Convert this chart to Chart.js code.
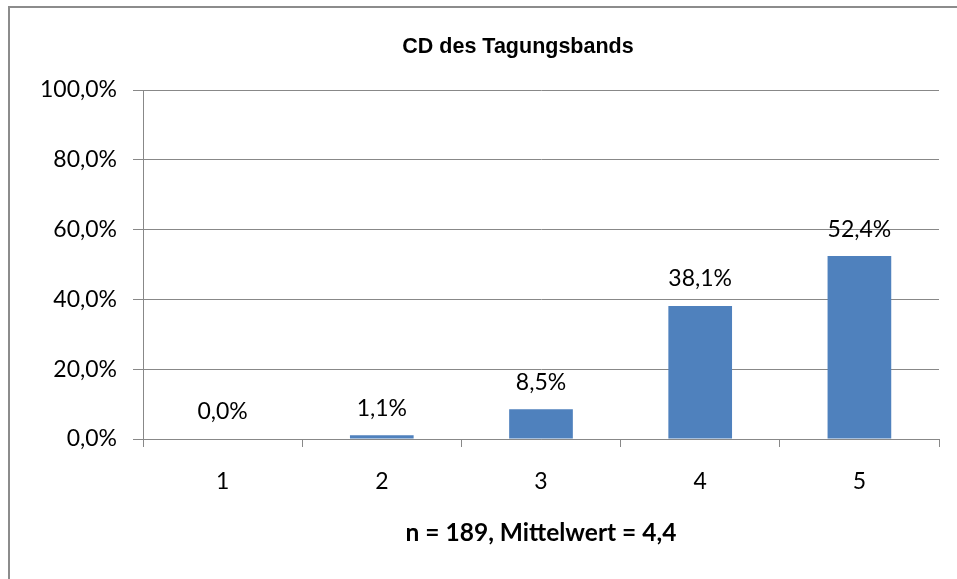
<!DOCTYPE html>
<html>
<head>
<meta charset="utf-8">
<script src="https://cdn.jsdelivr.net/npm/chart.js@4.4.1/dist/chart.umd.min.js"></script>
<style>
  html, body { margin: 0; padding: 0; background: #fff; }
  canvas { display: block; }
</style>
</head>
<body>
<canvas id="myChart" width="957" height="579"></canvas>
<script>
// values
var categories = ['1', '2', '3', '4', '5'];
var percentValues = [0.0, 1.1, 8.5, 38.1, 52.4];
var yTicks = [0, 20, 40, 60, 80, 100];

var chartTitle = 'CD des Tagungsbands';
var xTitle = 'n = 189, Mittelwert = 4,4';

var gridGray = '#888888';
var barBlue = '#4f81bd';
var textFont = 'Lato, "Open Sans", sans-serif';

function fmtPct(v) {
  return v.toFixed(1).replace('.', ',') + '%';
}

// frame + title + value labels
var decoPlugin = {
  id: 'deco',
  beforeDraw: function (chart) {
    var c = chart.ctx;
    c.save();
    c.fillStyle = '#fff';
    c.fillRect(0, 0, chart.width, chart.height);
    c.strokeStyle = '#8c8c8c';
    c.lineWidth = 2;
    c.strokeRect(9, 7, 1200, 1200);
    c.fillStyle = '#000';
    c.font = 'bold 21.5px "Liberation Sans", Arial, sans-serif';
    c.textAlign = 'center';
    c.textBaseline = 'middle';
    c.fillText(chartTitle, 518, 47);
    c.restore();
  },
  afterDatasetsDraw: function (chart) {
    var c = chart.ctx;
    var meta = chart.getDatasetMeta(0);
    c.save();
    c.fillStyle = '#000';
    c.font = '23px ' + textFont;
    c.textAlign = 'center';
    c.textBaseline = 'middle';
    meta.data.forEach(function (bar, i) {
      c.fillText(fmtPct(percentValues[i]), bar.x, bar.y - 27);
    });
    c.restore();
  }
};

var ctx = document.getElementById('myChart');
new Chart(ctx, {
  type: 'bar',
  data: {
    labels: categories,
    datasets: [{
      data: percentValues,
      backgroundColor: barBlue,
      barPercentage: 0.4,
      categoryPercentage: 1.0
    }]
  },
  options: {
    responsive: false,
    devicePixelRatio: 1,
    animation: false,
    layout: { padding: { top: 90, right: 18, left: 0, bottom: 0 } },
    plugins: {
      legend: { display: false },
      tooltip: { enabled: false },
      title: { display: false }
    },
    scales: {
      x: {
        afterFit: function (scale) { scale.height = 140; },
        grid: {
          offset: true,
          drawOnChartArea: false,
          drawTicks: true,
          tickLength: 8,
          color: gridGray
        },
        border: { display: true, color: gridGray, width: 1 },
        ticks: { color: '#000', padding: 21, font: { family: textFont, size: 23 } },
        title: {
          display: true,
          text: xTitle,
          color: '#000',
          font: { family: textFont, size: 24.5, weight: 'bold' },
          padding: { top: 0, bottom: 31 }
        }
      },
      y: {
        min: 0,
        max: 100,
        afterFit: function (scale) { scale.width = 143; },
        afterBuildTicks: function (scale) {
          scale.ticks = yTicks.map(function (v) { return { value: v }; });
        },
        grid: { color: gridGray, tickLength: 10, lineWidth: 1 },
        border: { display: true, color: gridGray, width: 1 },
        ticks: {
          color: '#000',
          padding: 16,
          font: { family: textFont, size: 23 },
          callback: function (v) { return fmtPct(v); }
        }
      }
    }
  },
  plugins: [decoPlugin]
});
</script>
</body>
</html>
